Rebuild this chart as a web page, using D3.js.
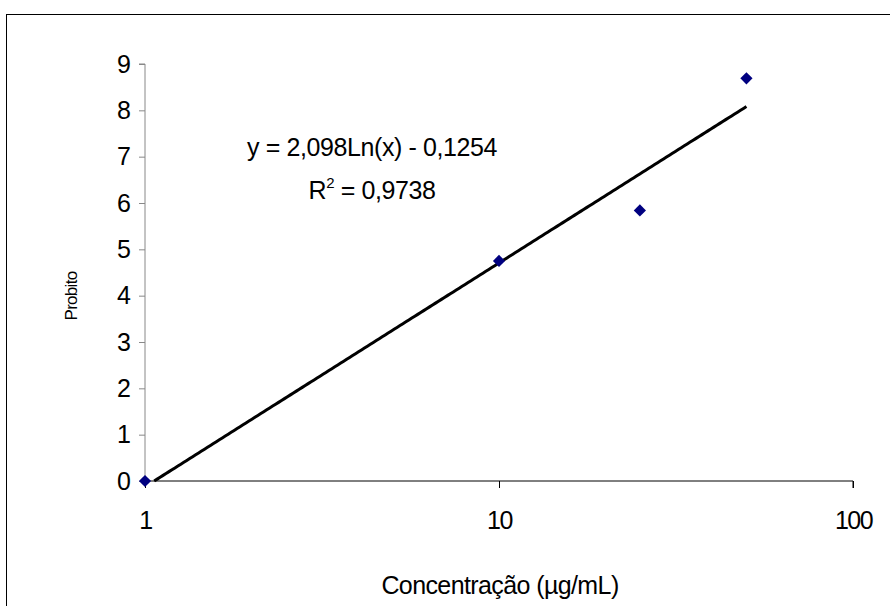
<!DOCTYPE html>
<html><head><meta charset="utf-8">
<script src="https://cdn.jsdelivr.net/npm/d3@7"></script>
<style>
body{margin:0;background:#fff;}
text{font-family:"Liberation Sans",Arial,sans-serif;}
</style></head>
<body><svg id="c" width="890" height="606"></svg>
<script>
const concentrations = [1, 10, 25, 50];
const probits = [0, 4.75, 5.84, 8.69];
const xTicks = [1, 10, 100];
const yTicks = [0,1,2,3,4,5,6,7,8,9];
const trendSlope = 2.098, trendIntercept = -0.1254;
const equationText = "y = 2,098Ln(x) - 0,1254";
const r2Text = "0,9738";
const xTitle = "Concentração (µg/mL)";
const yTitle = "Probito";

const svg = d3.select("#c");
svg.append("rect").attr("x",6.5).attr("y",14.5).attr("width",900).attr("height",700)
  .attr("fill","none").attr("stroke","#000").attr("stroke-width",1);

const x = d3.scaleLog().domain([1,100]).range([145,853]);
const y = d3.scaleLinear().domain([0,9]).range([481,64]);

// y axis
const ya = svg.append("g").attr("transform","translate(145,0)")
  .call(d3.axisLeft(y).tickValues(yTicks).tickSize(6).tickPadding(8).tickFormat(d3.format("d")));
ya.select(".domain").attr("stroke","#888").attr("d",`M-6,${y(9)}H0V${y(0)}`);
ya.selectAll(".tick line").attr("stroke","#888");
ya.selectAll("text").attr("font-size",25).attr("fill","#000").attr("font-family","Liberation Sans, Arial");

// x axis
const xa = svg.append("g").attr("transform","translate(0,481)")
  .call(d3.axisBottom(x).tickValues(xTicks).tickSize(7).tickPadding(23).tickFormat(d3.format("d")));
xa.select(".domain").attr("stroke","#000").attr("d",`M${x(1)},0H${x(100)}V7`);
xa.selectAll(".tick line").attr("stroke","#000");
xa.selectAll("text").attr("font-size",25).attr("fill","#000").attr("letter-spacing",-1.5).attr("font-family","Liberation Sans, Arial");

// trend line
const x0 = Math.exp(-trendIntercept/trendSlope);
const trendXs = d3.range(0,201).map(i => x0 * Math.pow(50/x0, i/200));
svg.append("path").datum(trendXs)
  .attr("d", d3.line().x(d=>x(d)).y(d=>y(trendSlope*Math.log(d)+trendIntercept)))
  .attr("fill","none").attr("stroke","#000").attr("stroke-width",3);

// points
svg.selectAll(".pt").data(concentrations).enter().append("path")
  .attr("class","pt")
  .attr("transform",(d,i)=>`translate(${x(d)},${y(probits[i])})`)
  .attr("d", d3.symbol(d3.symbolDiamond2, 95))
  .attr("fill","#000080");

// equation
svg.append("text").attr("x",372).attr("y",156).attr("text-anchor","middle")
  .attr("font-size",25).attr("letter-spacing",-0.4).text(equationText);
const r2 = svg.append("text").attr("x",372).attr("y",199).attr("text-anchor","middle")
  .attr("font-size",25).attr("letter-spacing",-0.4);
r2.append("tspan").text("R");
r2.append("tspan").attr("font-size",15).attr("dy",-11).text("2");
r2.append("tspan").attr("dy",11).text(" = " + r2Text);

// titles
svg.append("text").attr("x",500).attr("y",594).attr("text-anchor","middle")
  .attr("font-size",25).attr("letter-spacing",-0.6).text(xTitle);
svg.append("text").attr("transform","translate(77,296) rotate(-90)").attr("text-anchor","middle")
  .attr("font-size",17).attr("letter-spacing",-0.7).text(yTitle);
</script></body></html>
